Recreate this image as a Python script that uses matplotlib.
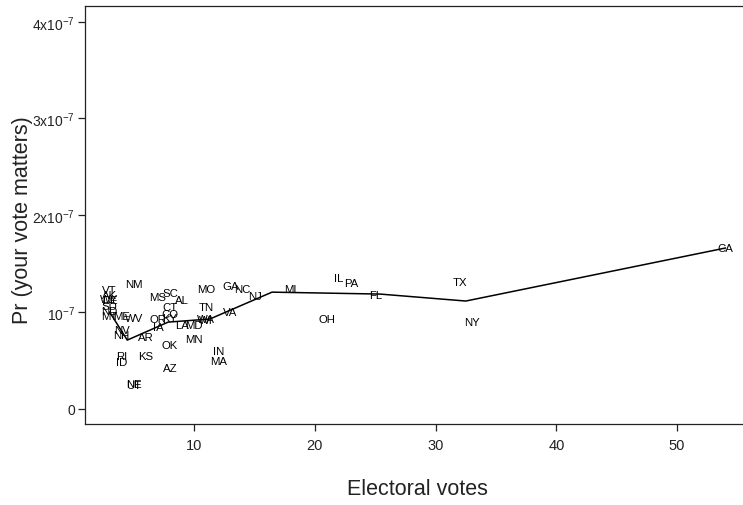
import numpy as np
import matplotlib
matplotlib.use("Agg")
import matplotlib.pyplot as plt

plt.rcParams['font.family'] = ['Liberation Sans', 'DejaVu Sans']
plt.rcParams['mathtext.fontset'] = 'custom'
plt.rcParams['mathtext.rm'] = 'Liberation Sans'
plt.rcParams['mathtext.it'] = 'Liberation Sans'

# states, electoral votes and Pr(your vote matters) in units of 1e-7
states = ["VT", "AK", "WY", "DE", "SD", "ND", "MT", "ME", "WV", "NM",
          "NV", "NH", "RI", "ID", "UT", "NE", "AR", "KS", "OR", "IA",
          "MS", "SC", "CT", "AL", "CO", "KY", "OK", "AZ", "LA", "MD",
          "MN", "MO", "TN", "WA", "WI", "IN", "MA", "GA", "NC", "VA",
          "NJ", "MI", "OH", "IL", "PA", "FL", "TX", "NY", "CA"]
votes = [3, 3, 3, 3, 3, 3, 3, 4, 5, 5,
         4, 4, 4, 4, 5, 5, 6, 6, 7, 7,
         7, 8, 8, 9, 8, 8, 8, 8, 9, 10,
         10, 11, 11, 11, 11, 12, 12, 13, 14, 13,
         15, 18, 21, 22, 23, 25, 32, 33, 54]
prob = [1.225, 1.174, 1.133, 1.122, 1.060, 1.008, 0.957, 0.957, 0.936, 1.287,
        0.812, 0.760, 0.543, 0.481, 0.243, 0.253, 0.739, 0.543, 0.926, 0.843,
        1.153, 1.194, 1.050, 1.122, 0.977, 0.936, 0.657, 0.419, 0.863, 0.863,
        0.719, 1.236, 1.050, 0.926, 0.915, 0.595, 0.491, 1.267, 1.236, 0.998,
        1.163, 1.236, 0.926, 1.350, 1.298, 1.174, 1.308, 0.894, 1.660]

# fitted curve
fit_x = [3, 4.46, 7.85, 11.3, 16.45, 25.4, 32.5, 54]
fit_y = [0.998, 0.708, 0.894, 0.926, 1.204, 1.184, 1.112, 1.66]

scale = 1e-7

fig = plt.figure(figsize=(7.43, 5.06), dpi=100)
ax = fig.add_axes([0.1144, 0.160, 0.895, 0.8256])

ax.plot(np.array(fit_x), np.array(fit_y) * scale, color="black", lw=1.1)
for s, v, p in zip(states, votes, prob):
    ax.text(v, p * scale, s, fontsize=8.2, ha="center", va="center")

ax.set_xlim(0.96, 56.04)
ax.set_ylim(-0.16e-7, 4.16e-7)
ax.set_xticks([10, 20, 30, 40, 50])
ax.set_yticks([0, 1e-7, 2e-7, 3e-7, 4e-7])
ax.set_yticklabels(["0", r"$10^{-7}$", r"$2\mathrm{x}10^{-7}$",
                    r"$3\mathrm{x}10^{-7}$", r"$4\mathrm{x}10^{-7}$"])
ax.tick_params(axis="both", direction="out", length=5, width=0.9,
               colors="#222222")
ax.tick_params(axis="x", pad=5, labelsize=10.5)
ax.tick_params(axis="y", pad=2, labelsize=10)
for sp in ax.spines.values():
    sp.set_linewidth(0.9)
    sp.set_color("#222222")

ax.set_xlabel("Electoral votes", fontsize=15.5, labelpad=19, color="#222222")
ax.set_ylabel("Pr (your vote matters)", fontsize=15.5, color="#222222")
ax.yaxis.set_label_coords(-0.078, 0.49)

fig.savefig("out.png", dpi=100)
